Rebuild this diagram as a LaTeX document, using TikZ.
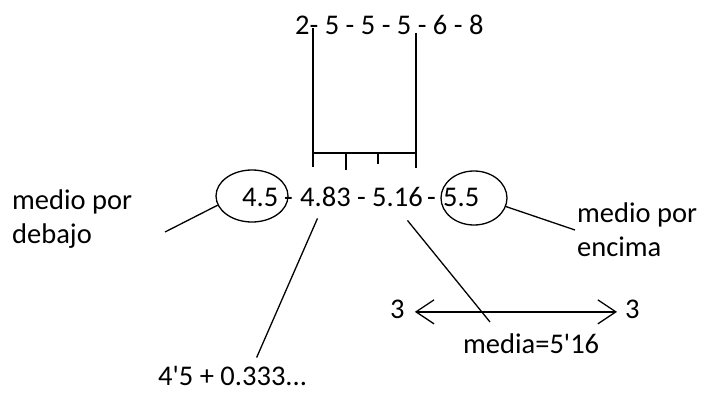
\documentclass[tikz,border=0pt]{standalone}
\usepackage{fontspec}
\setmainfont{Carlito}
\usetikzlibrary{shapes.geometric,arrows.meta,calc}
\begin{document}
\begin{tikzpicture}[x=1pt,y=1pt,
    txt/.style={font=\fontsize{28.5}{34}\selectfont, inner sep=0pt, anchor=base west},
    oval/.style={draw, ellipse, line width=1.3pt, inner sep=0pt},
    linea/.style={line width=1.3pt},
    punta/.tip={Straight Barb[length=18pt,width=24pt]}]
    \useasboundingbox (0,0) rectangle (704,392);

    % Datos
    \node[txt] (datos) at (295,358) {2- 5 - 5 - 5 - 6 - 8};

    % Corchete
    \draw[line width=1.7pt] (313,364) -- (313,225);
    \draw[line width=1.7pt] (416,359) -- (416,224);
    \draw[line width=1.7pt] (313,239) -- (416,239);
    \draw[line width=1.7pt] (346,239) -- (346,222);
    \draw[line width=1.7pt] (378,239) -- (378,228);

    % Medias
    \node[txt] (m1) at (242,186) {4.5};
    \node[txt] (g1) at (284,186) {-};
    \node[txt] (m2) at (300,186) {4.83};
    \node[txt] (g2) at (357,186) {-};
    \node[txt] (m3) at (372,186) {5.16};
    \node[txt] (g3) at (427,186) {-};
    \node[txt] (m4) at (443,186) {5.5};

    % Ovalos
    \node[oval, minimum width=72, minimum height=52] (o1) at (252,196) {};
    \node[oval, minimum width=66, minimum height=54] (o2) at (474,194) {};

    % Etiquetas
    \node[txt, align=left] (abajo) at (12,149) {medio por\\debajo};
    \node[txt, align=left] (arriba) at (577,136) {medio por\\encima};
    \node[txt] (suma) at (158,7) {4\textquotesingle5 + 0.333...};
    \node[txt] (media) at (463,39) {media=5\textquotesingle16};
    \node[txt] (tres1) at (390,74) {3};
    \node[txt] (tres2) at (625,74) {3};

    % Lineas
    \coordinate (c1) at (165,160);
    \coordinate (c2) at (575,162);
    \draw[linea] (o1.195) -- (c1);
    \draw[linea] (o2.345) -- (c2);
    \draw[linea] ($(m2.south)+(-8,-12)$) -- ($(suma.north)+(24,8)$);
    \draw[linea] ($(m3.south)+(10,-14)$) -- ($(media.north west)+(27,11)$);
    \draw[linea, punta-punta, shorten <=10pt, shorten >=8pt]
        ([yshift=-3pt]tres1.east) -- ([yshift=-3pt]tres2.west);

\end{tikzpicture}
\end{document}
